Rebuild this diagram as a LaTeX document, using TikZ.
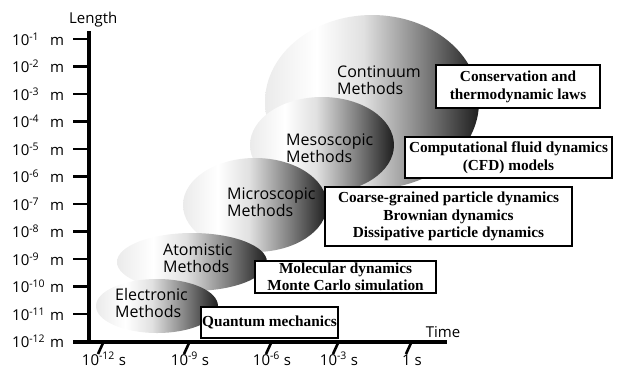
\documentclass[tikz,border=0pt]{standalone}
\usepackage{fontspec}
\setmainfont{Liberation Serif}
\newfontfamily\labelfont{Open Sans}
\usetikzlibrary{shapes.geometric}
% light on the left, dark towards the right rim
\pgfdeclarehorizontalshading{methshade}{100bp}{color(0bp)=(black!8); color(25bp)=(black!8); color(37bp)=(white); color(48bp)=(black!12); color(62bp)=(black!50); color(75bp)=(black!88); color(100bp)=(black!88)}
\newcommand{\methfont}{\labelfont\fontsize{16}{17.5}\selectfont}
\newcommand{\scalefont}{\labelfont\fontsize{15}{17}\selectfont}
\begin{document}
\begin{tikzpicture}[x=1pt,y=-1pt,
  axisline/.style={line width=3.2pt},
  tickmark/.style={line width=2.6pt},
  method/.style={shading=methshade},
  methlabel/.style={font=\methfont, align=left, anchor=west, inner sep=0pt},
  axislabel/.style={font=\scalefont, inner sep=0pt},
  infobox/.style={draw, line width=1.2pt, fill=white, align=center, inner sep=0pt,
    font=\bfseries\fontsize{15.3}{18}\selectfont}]
\useasboundingbox (0,0) rectangle (623,368);

% scale regions, back to front
\shade[method] (372,102) ellipse [x radius=107, y radius=87];
\shade[method] (322,145) ellipse [x radius=72, y radius=48];
\shade[method] (255,205) ellipse [x radius=72, y radius=47];
\shade[method] (192,262) ellipse [x radius=75, y radius=29];
\shade[method] (157,306) ellipse [x radius=61, y radius=27];

\node[methlabel] (cont)  at (337,80)  {Continuum\\Methods};
\node[methlabel] (meso)  at (286,148) {Mesoscopic\\Methods};
\node[methlabel] (micro) at (227,202) {Microscopic\\Methods};
\node[methlabel] (atom)  at (163,258) {Atomistic\\Methods};
\node[methlabel] (elec)  at (115,303) {Electronic\\Methods};

% models used at each scale
\node[infobox, minimum width=164pt, minimum height=43pt] (laws) at (518,86.5)
  {Conservation and\\thermodynamic laws};
\node[infobox, minimum width=207pt, minimum height=41pt] (cfd) at (508.5,157.5)
  {Computational fluid dynamics\\(CFD) models};
\node[infobox, minimum width=247pt, minimum height=59pt, font=\bfseries\fontsize{15.3}{17.5}\selectfont] (cg) at (448.5,216.5)
  {Coarse-grained particle dynamics\\Brownian dynamics\\Dissipative particle dynamics};
\node[infobox, minimum width=181pt, minimum height=32pt, font=\bfseries\fontsize{15.3}{17}\selectfont] (md) at (345.5,277)
  {Molecular dynamics\\Monte Carlo simulation};
\node[infobox, minimum width=137pt, minimum height=31pt] (qm) at (269.5,322.5)
  {Quantum mechanics};

% axes
\coordinate (ytop) at (89,31);
\coordinate (ybot) at (89,343.6);
\coordinate (xleft) at (73,342);
\coordinate (xright) at (447,342);
\draw[axisline] (ytop) -- (ybot);
\draw[axisline] (xleft) -- (xright);
\node[axislabel, anchor=west] (lenlab) at (69,20) {Length};
\node[axislabel] (timelab) at (443,332) {Time};

% length ticks
\foreach \e [count=\i from 0] in {1,...,12} {
  \pgfmathsetmacro{\yy}{39+\i*27.5}
  \draw[tickmark] (73,\yy) -- (89,\yy);
  \node[axislabel, anchor=west] (len\e) at (12,\yy)
    {\makebox[38pt][l]{10\textsuperscript{-\e}}m};
}

% time ticks
\foreach \xx/\txt [count=\i] in {103/10\textsuperscript{-12} s, 189/10\textsuperscript{-9} s, 271/10\textsuperscript{-6} s, 338/10\textsuperscript{-3} s, 411/1 s} {
  \draw[tickmark] (\xx,343) -- ++(-5,11);
  \node[axislabel, anchor=base] (time\i) at (\xx+1,365) {\txt};
}
\end{tikzpicture}
\end{document}
